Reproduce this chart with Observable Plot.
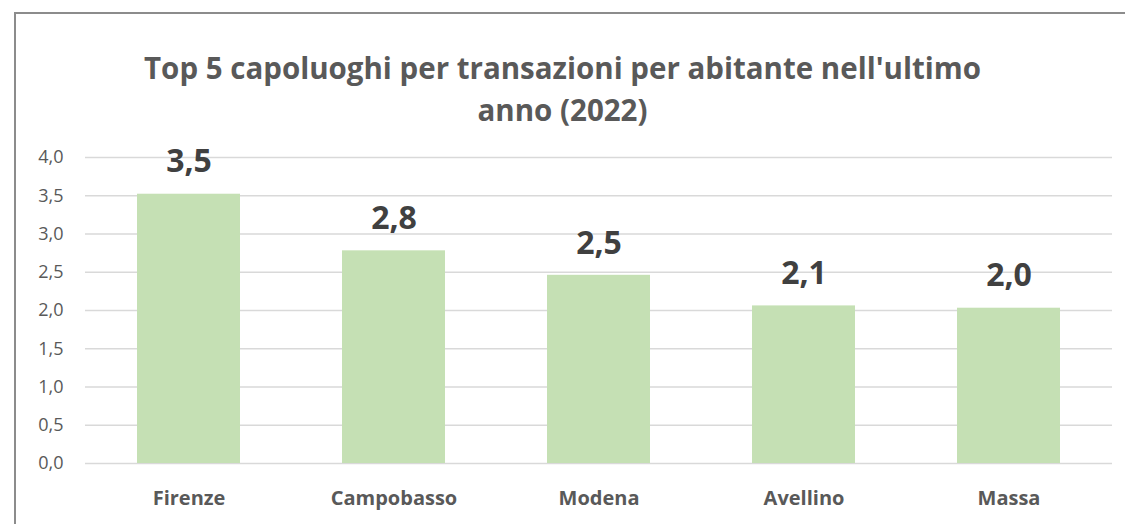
<!DOCTYPE html>
<html>
<head>
<meta charset="utf-8">
<script src="https://cdn.jsdelivr.net/npm/d3@7"></script>
<script src="https://cdn.jsdelivr.net/npm/@observablehq/plot@0.6"></script>
<style>
  html, body { margin: 0; padding: 0; background: #fff; }
  #wrap { position: relative; width: 1125px; height: 524px; overflow: hidden; font-family: "Open Sans", sans-serif; }
  #frame { position: absolute; left: 14px; top: 12px; width: 1200px; height: 600px; border-top: 2px solid #8c8c8c; border-left: 2px solid #8c8c8c; box-sizing: border-box; }
  #title { position: absolute; left: 0; width: 1125px; top: 47px; text-align: center; font-weight: 700; font-size: 29.5px; line-height: 42px; color: #595959; }
  #chart { position: absolute; left: 0; top: 130px; }
</style>
</head>
<body>
<div id="wrap">
  <div id="frame"></div>
  <div id="title">Top 5 capoluoghi per transazioni per abitante nell'ultimo<br>anno (2022)</div>
  <div id="chart"></div>
</div>
<script>
const cities = ["Firenze", "Campobasso", "Modena", "Avellino", "Massa"];
const values = [3.52, 2.78, 2.46, 2.06, 2.03];
const yTicks = [0, 0.5, 1, 1.5, 2, 2.5, 3, 3.5, 4];

const data = cities.map((c, i) => ({city: c, value: values[i]}));
const fmt1 = d => d.toFixed(1).replace(".", ",");

const chart = Plot.plot({
  width: 1125,
  height: 394,
  marginTop: 27,
  marginBottom: 61,
  marginLeft: 85,
  marginRight: 13,
  style: {fontFamily: "Open Sans, sans-serif", background: "transparent"},
  x: {domain: cities, paddingInner: 0.5, paddingOuter: 0.25, label: null},
  y: {domain: [0, 4], label: null},
  marks: [
    Plot.gridY(yTicks, {stroke: "#d9d9d9", strokeOpacity: 1, strokeWidth: 1.5}),
    Plot.barY(data, {x: "city", y: "value", fill: "#c5e0b4"}),
    Plot.axisY(yTicks, {tickSize: 0, tickPadding: 22, tickFormat: fmt1, fontSize: 18, fill: "#595959"}),
    Plot.axisX({tickSize: 0, tickPadding: 27, fontSize: 20, fontWeight: "bold", fill: "#595959"}),
    Plot.text(data, {x: "city", y: "value", text: d => fmt1(d.value), dy: -32, fontSize: 32, fontWeight: "bold", fill: "#404040"})
  ]
});
document.getElementById("chart").appendChild(chart);
</script>
</body>
</html>
